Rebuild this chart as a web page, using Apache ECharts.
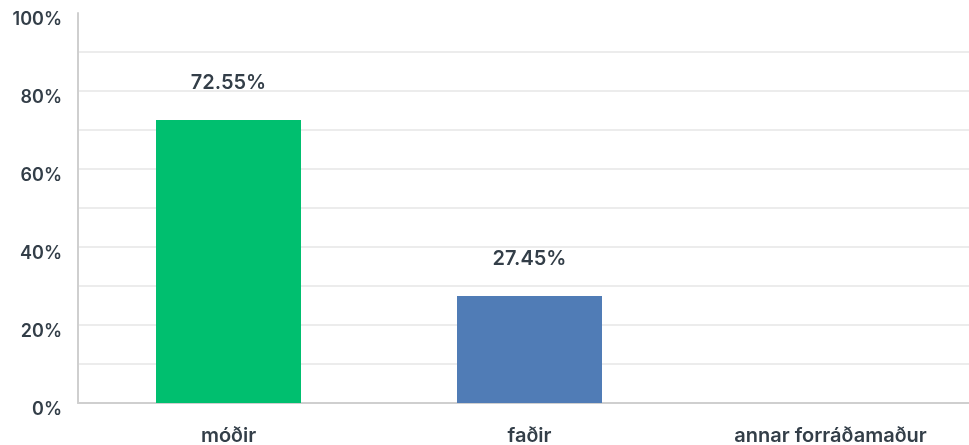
<!DOCTYPE html>
<html><head><meta charset="utf-8">
<script src="https://cdn.jsdelivr.net/npm/echarts@6/dist/echarts.min.js"></script>
<style>html,body{margin:0;padding:0;background:#fff}#c{width:969px;height:445px}</style>
</head><body><div id="c"></div>
<script>
const categories = ['móðir', 'faðir', 'annar forráðamaður'];
const values = [72.55, 27.45, 0];
const colors = ['#00bf6f', '#507cb6', '#d25f90'];
const chart = echarts.init(document.getElementById('c'));
chart.setOption({
  animation: false,
  grid: {left: 78, width: 903, top: 13, bottom: 42, containLabel: false, outerBoundsMode: 'none'},
  xAxis: {
    type: 'category', data: categories,
    axisLine: {lineStyle: {color: '#cfcfcf', width: 2}},
    axisTick: {show: false},
    axisLabel: {color: '#333e48', fontFamily: 'Inter', fontWeight: 600, fontSize: 20, margin: 23}
  },
  yAxis: {
    type: 'value', min: 0, max: 100, interval: 10,
    axisLine: {show: true, lineStyle: {color: '#cfcfcf', width: 2}},
    axisTick: {show: false},
    splitLine: {showMaxLine: false, lineStyle: {color: '#ececec', width: 2}},
    axisLabel: {
      color: '#333e48', fontFamily: 'Inter', fontWeight: 600, fontSize: 18, margin: 16,
      verticalAlign: 'top', lineHeight: 13,
      formatter: v => (v % 20 === 0 ? v + '%' : '')
    }
  },
  series: [{
    type: 'bar', barWidth: 145,
    data: values.map((v, i) => ({value: v, itemStyle: {color: colors[i]}})),
    label: {
      show: true, position: 'top', distance: 27,
      color: '#333e48', fontFamily: 'Inter', fontWeight: 600, fontSize: 20,
      formatter: p => p.value > 0 ? p.value.toFixed(2) + '%' : ''
    }
  }]
});
</script></body></html>
